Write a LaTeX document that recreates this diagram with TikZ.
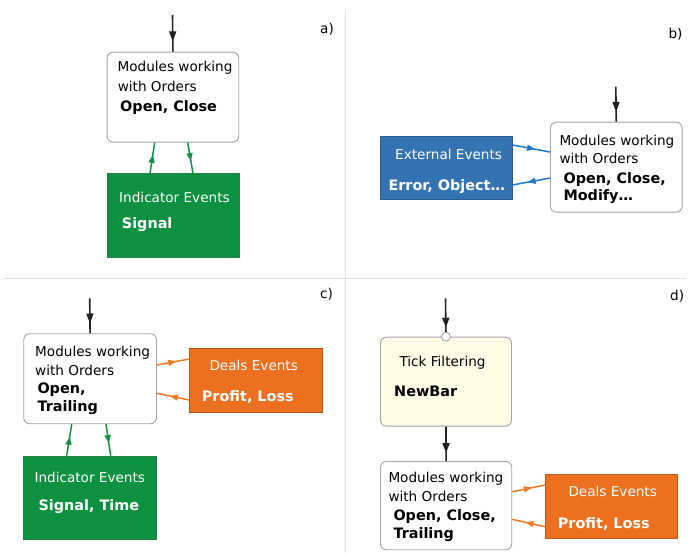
\documentclass[tikz,border=0pt]{standalone}
\usepackage{fontspec}
\setmainfont{DejaVu Sans}
\usetikzlibrary{arrows.meta,decorations.markings}
\definecolor{darkc}{HTML}{222222}
\definecolor{boxline}{HTML}{A2A2A2}
\definecolor{divc}{HTML}{DEDEDE}
\definecolor{greenf}{HTML}{0C9141}
\definecolor{greenl}{HTML}{2F7A45}
\definecolor{greena}{HTML}{0E9142}
\definecolor{bluef}{HTML}{3473B2}
\definecolor{bluel}{HTML}{2A5C8E}
\definecolor{bluea}{HTML}{1F78C8}
\definecolor{orangef}{HTML}{EC701F}
\definecolor{orangel}{HTML}{B95818}
\definecolor{orangea}{HTML}{F07A22}
\definecolor{yellowf}{HTML}{FDFDE6}
\begin{document}
\begin{tikzpicture}[x=1pt,y=-1pt,
  basebox/.style={inner sep=0pt, anchor=north west, line width=0.9pt},
  modbox/.style={basebox, draw=boxline, fill=white, rounded corners=6pt},
  tickbox/.style={basebox, draw=boxline, fill=yellowf, rounded corners=6pt},
  greenbox/.style={basebox, draw=greenl, fill=greenf},
  bluebox/.style={basebox, draw=bluel, fill=bluef},
  orangebox/.style={basebox, draw=orangel, fill=orangef},
  txt/.style={inner sep=0pt, anchor=base west, text=black, font=\fontsize{13.6}{16}\selectfont},
  btxt/.style={txt, font=\fontsize{14.4}{17}\selectfont\bfseries},
  wtxt/.style={txt, text=white},
  wbtxt/.style={btxt, text=white},
  lbl/.style={txt, font=\fontsize{13.6}{16}\selectfont},
  darr/.style={draw=darkc, line width=1.6pt,
    decoration={markings, mark=at position #1 with {\arrow{Triangle[length=10pt,width=7pt]}}},
    postaction={decorate}},
  darr/.default=0.72,
  carr/.style={line width=1.5pt,
    decoration={markings, mark=at position 0.6 with {\arrow{Triangle[length=8pt,width=6pt]}}},
    postaction={decorate}},
  garr/.style={carr, draw=greena},
  barr/.style={carr, draw=bluea},
  oarr/.style={carr, draw=orangea},
  dotc/.style={circle, draw=boxline, fill=white, line width=0.9pt, minimum size=9pt, inner sep=0pt},
  divline/.style={draw=divc, line width=1pt}
]
\useasboundingbox (0,0) rectangle (700,555);
\fill[white] (0,0) rectangle (700,555);

% dividers
\coordinate (h1) at (4,278);
\coordinate (h2) at (686,278);
\coordinate (v1) at (345,9);
\coordinate (v2) at (345,553);
\draw[divline] (h1) -- (h2);
\draw[divline] (v1) -- (v2);

% labels
\node[lbl] (la) at (320,33) {a)};
\node[lbl] (lb) at (668.3,38.3) {b)};
\node[lbl] (lc) at (320,298.3) {c)};
\node[lbl] (ld) at (670,300.7) {d)};

% ---------- a ----------
\node[modbox, minimum width=131.6pt, minimum height=90pt] (ma) at (106.7,51.7) {};
\node[greenbox, minimum width=131.6pt, minimum height=83.4pt] (ga) at (107,173.3) {};
\node[txt] (ta1) at (117.4,71.7) {Modules working};
\node[txt] (ta2) at (117.6,91.7) {with Orders};
\node[btxt] (ta3) at (120,111.7) {Open, Close};
\node[wtxt] (ta4) at (119,202) {Indicator Events};
\node[wbtxt] (ta5) at (121.7,228.3) {Signal};
\coordinate (sa) at (172.5,15);
\draw[darr] (sa) -- (ma.north);
\draw[garr] ([xshift=43pt]ga.north west) -- ([xshift=48pt]ma.south west);
\draw[garr] ([xshift=81pt]ma.south west) -- ([xshift=86pt]ga.north west);

% ---------- b ----------
\node[modbox, minimum width=131.7pt, minimum height=90pt] (mb) at (550,121.7) {};
\node[bluebox, minimum width=131.7pt, minimum height=63.6pt] (eb) at (380,135.7) {};
\node[txt] (tb1) at (559.3,145) {Modules working};
\node[txt] (tb2) at (559.3,163.3) {with Orders};
\node[btxt] (tb3) at (563.3,183.3) {Open, Close,};
\node[btxt] (tb4) at (563.3,200) {Modify…};
\node[wtxt] (tb5) at (395,159.3) {External Events};
\node[wbtxt] (tb6) at (388.3,190.7) {Error, Object…};
\coordinate (sb) at (615.8,86.7);
\draw[darr] (sb) -- (mb.north);
\draw[barr] ([yshift=-9.3pt]eb.north east) -- ([yshift=-30.3pt]mb.north west);
\draw[barr] ([yshift=-56.3pt]mb.north west) -- ([yshift=-49.3pt]eb.north east);

% ---------- c ----------
\node[modbox, minimum width=132.7pt, minimum height=90pt] (mc) at (23.3,333.3) {};
\node[orangebox, minimum width=132.4pt, minimum height=64.6pt] (oc) at (189.3,347.7) {};
\node[greenbox, minimum width=132.7pt, minimum height=83.3pt] (gc) at (23.3,455.7) {};
\node[txt] (tc1) at (35,356) {Modules working};
\node[txt] (tc2) at (35,375) {with Orders};
\node[btxt] (tc3) at (37.3,393.3) {Open,};
\node[btxt] (tc4) at (37.3,411.7) {Trailing};
\node[wtxt] (tc5) at (209.3,370) {Deals Events};
\node[wbtxt] (tc6) at (201.7,401.7) {Profit, Loss};
\node[wtxt] (tc7) at (34.3,482.3) {Indicator Events};
\node[wbtxt] (tc8) at (38.3,510) {Signal, Time};
\coordinate (sc) at (89.7,298.3);
\draw[darr] (sc) -- (mc.north);
\draw[oarr] ([yshift=-31.7pt]mc.north east) -- ([yshift=-11.3pt]oc.north west);
\draw[oarr] ([yshift=-52.3pt]oc.north west) -- ([yshift=-60pt]mc.north east);
\draw[garr] ([xshift=43.4pt]gc.north west) -- ([xshift=48.4pt]mc.south west);
\draw[garr] ([xshift=82.7pt]mc.south west) -- ([xshift=87.4pt]gc.north west);

% ---------- d ----------
\node[tickbox, minimum width=131pt, minimum height=89pt] (td) at (380,336.7) {};
\node[modbox, minimum width=131.3pt, minimum height=88.3pt] (md) at (380,461) {};
\node[orangebox, minimum width=132.3pt, minimum height=64pt] (od) at (545,474.3) {};
\node[dotc] (dc) at (td.north) {};
\node[txt] (td1) at (399.3,366) {Tick Filtering};
\node[btxt] (td2) at (394,396.7) {NewBar};
\node[txt] (td3) at (388.3,482.7) {Modules working};
\node[txt] (td4) at (388.3,501.7) {with Orders};
\node[btxt] (td5) at (393.3,520) {Open, Close,};
\node[btxt] (td6) at (393.3,538.3) {Trailing};
\node[wtxt] (td7) at (568.3,496.7) {Deals Events};
\node[wbtxt] (td8) at (557.7,528.3) {Profit, Loss};
\coordinate (sd) at (445.5,298.3);
\draw[darr=0.88] (sd) -- (dc.north);
\draw[darr=0.77] (td.south) -- (md.north);
\draw[oarr] ([yshift=-30.7pt]md.north east) -- ([yshift=-10.7pt]od.north west);
\draw[oarr] ([yshift=-52.4pt]od.north west) -- ([yshift=-58.3pt]md.north east);
\end{tikzpicture}
\end{document}
